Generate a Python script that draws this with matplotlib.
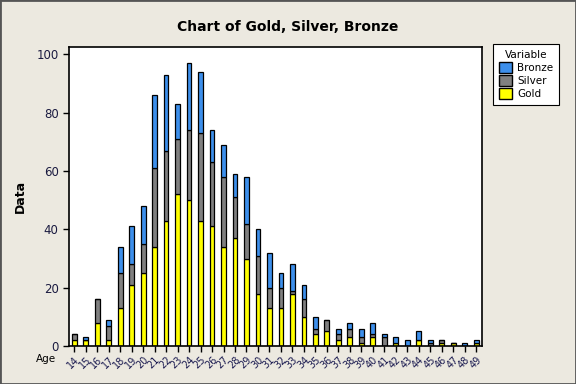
import matplotlib.pyplot as plt
import matplotlib.patches as mpatches
import numpy as np

ages = list(range(14, 50))
gold = [2, 2, 8, 2, 13, 21, 25, 34, 43, 52, 50, 43, 41, 34, 37, 30, 18, 13,
        13, 18, 10, 4, 5, 2, 3, 1, 3, 0, 1, 0, 2, 0, 1, 1, 0, 1]
silver = [2, 0, 8, 5, 12, 7, 10, 27, 24, 19, 24, 30, 22, 24, 14, 12, 13, 7,
          7, 1, 6, 2, 4, 2, 3, 2, 1, 3, 0, 0, 0, 1, 1, 0, 0, 0]
bronze = [0, 1, 0, 2, 9, 13, 13, 25, 26, 12, 23, 21, 11, 11, 8, 16, 9, 12,
          5, 9, 5, 4, 0, 2, 2, 3, 4, 1, 2, 2, 3, 1, 0, 0, 1, 1]

bg = '#ECE9E0'
c_gold = '#FFFF00'
c_silver = '#808080'
c_bronze = '#3D8FEB'

fig = plt.figure(figsize=(5.76, 3.84), dpi=100, facecolor=bg)
ax = fig.add_axes([69 / 576, 1 - 346 / 384, (482 - 69) / 576, (346 - 46.5) / 384])
ax.set_facecolor('white')

x = np.arange(len(ages))
g = np.array(gold)
s = np.array(silver)
b = np.array(bronze)
w = 0.42
kw = dict(width=w, edgecolor='black', linewidth=0.9)
ax.bar(x, g, color=c_gold, **kw)
ax.bar(x, s, bottom=g, color=c_silver, **kw)
ax.bar(x, b, bottom=g + s, color=c_bronze, **kw)

ax.set_xlim(-0.45, len(ages) - 0.5)
ax.set_ylim(0, 102.7)
ax.set_yticks(range(0, 101, 20))
ax.set_xticks(x)
ax.set_xticklabels([str(a) for a in ages], rotation=45, fontsize=7,
                   color='#1A1A50', ha='right', va='top', rotation_mode='anchor')
ax.tick_params(axis='x', length=4, width=1, pad=2)
ax.tick_params(axis='y', length=4, width=1, labelsize=8.5, labelcolor='#1A1A40')
for sp in ax.spines.values():
    sp.set_linewidth(1.2)

ax.set_ylabel('Data', fontsize=9, fontweight='bold', labelpad=7)
fig.text(36 / 576, 1 - 359 / 384, 'Age', fontsize=7.5, va='center', ha='left')
fig.suptitle('Chart of Gold, Silver, Bronze', x=0.5, y=1 - 27 / 384,
             fontsize=10, fontweight='bold', va='center')

handles = [mpatches.Patch(facecolor=c_bronze, edgecolor='black', label='Bronze'),
           mpatches.Patch(facecolor=c_silver, edgecolor='black', label='Silver'),
           mpatches.Patch(facecolor=c_gold, edgecolor='black', label='Gold')]
leg = fig.legend(handles=handles, title='Variable', loc='upper left',
                 bbox_to_anchor=(493 / 576, 1 - 44 / 384), fontsize=7.5,
                 title_fontsize=7.5, fancybox=False, edgecolor='black',
                 framealpha=1, handlelength=1.2, handleheight=1.2,
                 handletextpad=0.5, borderpad=0.6, labelspacing=0.2,
                 borderaxespad=0)
leg.get_frame().set_linewidth(0.8)

fig.patches.append(mpatches.Rectangle((0, 0), 1, 1, transform=fig.transFigure,
                                      fill=False, edgecolor='#555555', linewidth=2))

fig.savefig('out.png', dpi=100, facecolor=bg)
